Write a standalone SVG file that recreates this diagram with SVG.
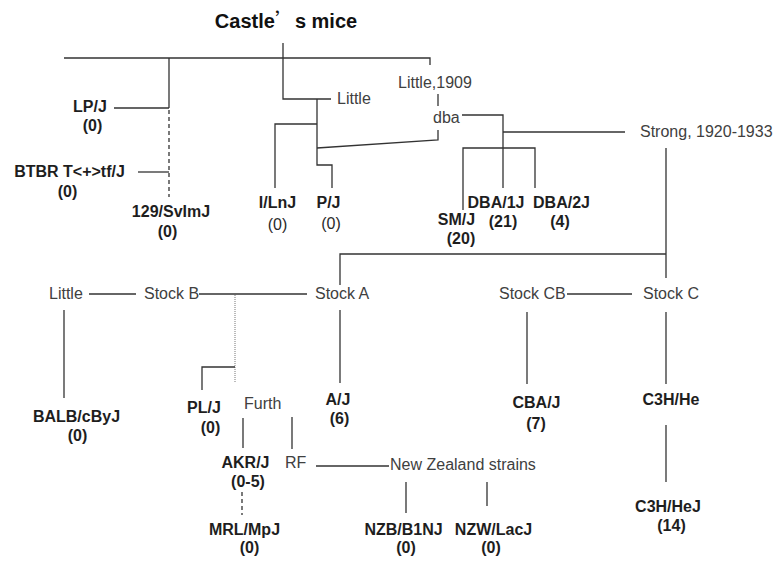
<svg xmlns="http://www.w3.org/2000/svg" width="778" height="562" viewBox="0 0 778 562">
<style>
text{font-family:"Liberation Sans",Arial,sans-serif;font-size:16px}
.b{font-weight:bold;fill:#1e1e1e;text-anchor:middle}
.r{fill:#404040}
.rc{fill:#2a2a2a;text-anchor:middle}
.t{font-size:20px;font-weight:bold;fill:#111;text-anchor:middle}
#connectors path{fill:none;stroke:#333;stroke-width:1.3}
#connectors .dash{stroke-dasharray:4 3}
#connectors .dot{stroke:#777;stroke-width:1;stroke-dasharray:1 1}
</style>
<rect width="778" height="562" fill="#fff"/>
<g id="connectors">
<path d="M283,43 V99 H331"/>
<path d="M64,58 H430 V65"/>
<path d="M169,58 V108 M114,108 H169"/>
<path class="dash" d="M169,110 V197"/>
<path d="M138,172 H169"/>
<path d="M317,99 V165 H332 V188"/>
<path d="M275,188 V124 H317"/>
<path d="M317,148 L438,140 V130"/>
<path d="M438,94 V106"/>
<path d="M462,115 H503 V188"/>
<path d="M503,132 H625"/>
<path d="M463,210 V148 H535 V188"/>
<path d="M666,148 V278 M340,285 V254 H666"/>
<path d="M89,294 H136"/>
<path d="M199,294 H307"/>
<path class="dot" d="M235,295 V383"/>
<path d="M202,390 V367 H235"/>
<path d="M64,310 V398"/>
<path d="M340,310 V383"/>
<path d="M567,294 H632"/>
<path d="M527,312 V384"/>
<path d="M666,312 V384"/>
<path d="M666,425 V482"/>
<path d="M243,418 V448 M292,417 V449"/>
<path d="M316,466 H389"/>
<path class="dash" d="M242,492 V515"/>
<path d="M406,482 V513 M487,482 V506"/>
</g>
<g id="castle"><text class="t" x="286" y="28">Castle<tspan font-family="'Noto Sans CJK SC',sans-serif" font-weight="normal">’</tspan>s mice</text></g>
<g id="lpj"><text class="b" x="90" y="112">LP/J</text><text class="b" x="92.5" y="131">(0)</text></g>
<g id="btbr"><text class="b" x="69.5" y="177">BTBR T&lt;+&gt;tf/J</text><text class="b" x="67.5" y="197">(0)</text></g>
<g id="s129"><text class="b" x="171" y="217">129/SvImJ</text><text class="b" x="167.5" y="237">(0)</text></g>
<g id="little1"><text class="r" x="337" y="104">Little</text></g>
<g id="ilnj"><text class="b" x="277.5" y="208">I/LnJ</text><text class="rc" x="277.5" y="230">(0)</text></g>
<g id="pj"><text class="b" x="328.5" y="208">P/J</text><text class="rc" x="331" y="229">(0)</text></g>
<g id="little1909"><text class="r" x="398" y="88">Little,1909</text></g>
<g id="dba"><text class="r" x="433" y="123">dba</text></g>
<g id="strong"><text class="r" x="640" y="137">Strong, 1920-1933</text></g>
<g id="smj"><text class="b" x="456.5" y="225">SM/J</text><text class="b" x="461" y="244">(20)</text></g>
<g id="dba1j"><text class="b" x="496" y="208">DBA/1J</text><text class="b" x="503" y="227">(21)</text></g>
<g id="dba2j"><text class="b" x="561.5" y="208">DBA/2J</text><text class="b" x="560" y="227">(4)</text></g>
<g id="little2"><text class="r" x="49" y="299">Little</text></g>
<g id="stockb"><text class="r" x="144" y="299">Stock B</text></g>
<g id="stocka"><text class="r" x="315" y="299">Stock A</text></g>
<g id="stockcb"><text class="r" x="499" y="299">Stock CB</text></g>
<g id="stockc"><text class="r" x="643" y="299">Stock C</text></g>
<g id="balb"><text class="b" x="76.5" y="422">BALB/cByJ</text><text class="b" x="77.5" y="441">(0)</text></g>
<g id="plj"><text class="b" x="204" y="413">PL/J</text><text class="b" x="210.5" y="433">(0)</text></g>
<g id="furth"><text class="r" x="244" y="409">Furth</text></g>
<g id="aj"><text class="b" x="338" y="405">A/J</text><text class="b" x="339.5" y="424">(6)</text></g>
<g id="akr"><text class="b" x="245.5" y="468">AKR/J</text><text class="b" x="248" y="487">(0-5)</text></g>
<g id="rf"><text class="r" x="285" y="468">RF</text></g>
<g id="nz"><text class="r" x="390" y="470">New Zealand strains</text></g>
<g id="mrl"><text class="b" x="244.5" y="535">MRL/MpJ</text><text class="b" x="249.5" y="553">(0)</text></g>
<g id="nzb"><text class="b" x="403.5" y="535">NZB/B1NJ</text><text class="b" x="406" y="553">(0)</text></g>
<g id="nzw"><text class="b" x="493.5" y="535">NZW/LacJ</text><text class="b" x="491" y="553">(0)</text></g>
<g id="cba"><text class="b" x="536.5" y="408">CBA/J</text><text class="b" x="536" y="429">(7)</text></g>
<g id="c3hhe"><text class="b" x="671" y="405">C3H/He</text></g>
<g id="c3hhej"><text class="b" x="668" y="512">C3H/HeJ</text><text class="b" x="671.5" y="531">(14)</text></g>
</svg>
